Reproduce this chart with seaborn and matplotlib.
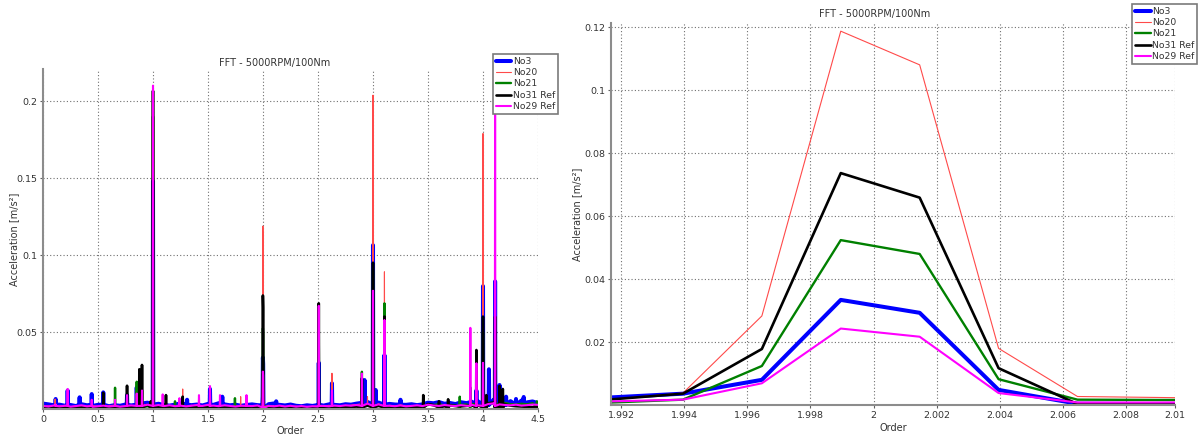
import numpy as np
import pandas as pd
import matplotlib
matplotlib.use("Agg")
import matplotlib.pyplot as plt
import seaborn as sns

# ---- data ----
series_names = ["No3", "No20", "No21", "No31 Ref", "No29 Ref"]
series_colors = ["#0000ff", "#ff4a4a", "#008000", "#000000", "#ff00ff"]
series_lw = [2.9, 0.8, 1.7, 1.9, 1.5]

# zoomed view around order 2 (FFT bins, 0.0025 order apart)
order_zoom = [1.99146, 1.99396, 1.99646, 1.99896, 2.00146, 2.00396, 2.00646, 2.00896, 2.01146]
zoom_no3 = [0.0023, 0.0036, 0.0080, 0.0334, 0.0293, 0.0048, 0.0004, 0.0003, 0.0003]
zoom_no20 = [0.0016, 0.0038, 0.0283, 0.1188, 0.1081, 0.0180, 0.0027, 0.0024, 0.0021]
zoom_no21 = [0.0007, 0.0017, 0.0124, 0.0524, 0.0480, 0.0082, 0.0017, 0.0016, 0.0016]
zoom_no31 = [0.0016, 0.0036, 0.0178, 0.0737, 0.0659, 0.0117, 0.0003, 0.0004, 0.0004]
zoom_no29 = [0.0011, 0.0017, 0.0069, 0.0243, 0.0217, 0.0038, 0.0008, 0.0008, 0.0009]

bin_width = 0.0025

# noise floor of the full spectrum, read every 0.05 order from 0 to 4.5
floor_order = np.round(np.arange(0, 4.501, 0.05), 2)
floor_no3 = [
    0.0035, 0.0030, 0.0024, 0.0028, 0.0021, 0.0026, 0.0019, 0.0031, 0.0024, 0.0020,
    0.0027, 0.0022, 0.0018, 0.0025, 0.0021, 0.0029, 0.0023, 0.0032, 0.0036, 0.0041,
    0.0030, 0.0034, 0.0026, 0.0022, 0.0028, 0.0037, 0.0031, 0.0025, 0.0029, 0.0023,
    0.0033, 0.0027, 0.0038, 0.0030, 0.0024, 0.0028, 0.0021, 0.0026, 0.0030, 0.0025,
    0.0034, 0.0031, 0.0036, 0.0027, 0.0023, 0.0029, 0.0021, 0.0018, 0.0024, 0.0020,
    0.0026, 0.0022, 0.0030, 0.0027, 0.0024, 0.0031, 0.0028, 0.0035, 0.0040, 0.0046,
    0.0050, 0.0042, 0.0038, 0.0033, 0.0029, 0.0036, 0.0027, 0.0031, 0.0025, 0.0030,
    0.0041, 0.0037, 0.0045, 0.0034, 0.0039, 0.0032, 0.0044, 0.0038, 0.0047, 0.0052,
    0.0046, 0.0058, 0.0062, 0.0070, 0.0066, 0.0051, 0.0047, 0.0055, 0.0043, 0.0049,
    0.0038]
floor_no20 = [
    0.0016, 0.0021, 0.0013, 0.0019, 0.0024, 0.0015, 0.0020, 0.0012, 0.0018, 0.0022,
    0.0017, 0.0014, 0.0021, 0.0025, 0.0016, 0.0019, 0.0023, 0.0018, 0.0026, 0.0030,
    0.0022, 0.0019, 0.0025, 0.0017, 0.0021, 0.0028, 0.0020, 0.0024, 0.0016, 0.0019,
    0.0026, 0.0021, 0.0018, 0.0023, 0.0015, 0.0020, 0.0024, 0.0017, 0.0022, 0.0019,
    0.0027, 0.0023, 0.0018, 0.0021, 0.0016, 0.0014, 0.0019, 0.0013, 0.0017, 0.0015,
    0.0020, 0.0016, 0.0024, 0.0019, 0.0022, 0.0017, 0.0025, 0.0029, 0.0034, 0.0041,
    0.0045, 0.0033, 0.0028, 0.0024, 0.0020, 0.0026, 0.0019, 0.0023, 0.0018, 0.0021,
    0.0027, 0.0024, 0.0030, 0.0022, 0.0026, 0.0021, 0.0028, 0.0024, 0.0031, 0.0027,
    0.0034, 0.0038, 0.0042, 0.0036, 0.0040, 0.0032, 0.0029, 0.0033, 0.0026, 0.0030,
    0.0024]
floor_no21 = [
    0.0009, 0.0013, 0.0008, 0.0011, 0.0015, 0.0010, 0.0012, 0.0009, 0.0014, 0.0011,
    0.0013, 0.0016, 0.0012, 0.0018, 0.0014, 0.0011, 0.0015, 0.0019, 0.0021, 0.0017,
    0.0013, 0.0010, 0.0014, 0.0012, 0.0017, 0.0013, 0.0010, 0.0015, 0.0012, 0.0009,
    0.0014, 0.0011, 0.0016, 0.0013, 0.0018, 0.0015, 0.0012, 0.0010, 0.0013, 0.0011,
    0.0016, 0.0014, 0.0012, 0.0010, 0.0013, 0.0009, 0.0011, 0.0008, 0.0010, 0.0009,
    0.0012, 0.0010, 0.0013, 0.0011, 0.0015, 0.0012, 0.0016, 0.0020, 0.0024, 0.0028,
    0.0031, 0.0024, 0.0019, 0.0016, 0.0013, 0.0017, 0.0012, 0.0016, 0.0014, 0.0019,
    0.0029, 0.0025, 0.0031, 0.0023, 0.0027, 0.0022, 0.0026, 0.0030, 0.0033, 0.0028,
    0.0035, 0.0040, 0.0037, 0.0043, 0.0039, 0.0031, 0.0028, 0.0034, 0.0030, 0.0038,
    0.0045]
floor_no31 = [
    0.0007, 0.0005, 0.0009, 0.0006, 0.0008, 0.0010, 0.0007, 0.0009, 0.0006, 0.0008,
    0.0011, 0.0009, 0.0007, 0.0010, 0.0012, 0.0009, 0.0014, 0.0017, 0.0021, 0.0026,
    0.0013, 0.0010, 0.0008, 0.0011, 0.0009, 0.0012, 0.0015, 0.0011, 0.0008, 0.0010,
    0.0009, 0.0012, 0.0010, 0.0008, 0.0011, 0.0009, 0.0007, 0.0010, 0.0008, 0.0009,
    0.0013, 0.0011, 0.0009, 0.0012, 0.0008, 0.0007, 0.0010, 0.0006, 0.0008, 0.0007,
    0.0009, 0.0007, 0.0010, 0.0008, 0.0011, 0.0009, 0.0013, 0.0016, 0.0019, 0.0022,
    0.0026, 0.0020, 0.0016, 0.0013, 0.0011, 0.0014, 0.0010, 0.0012, 0.0009, 0.0015,
    0.0032, 0.0025, 0.0021, 0.0018, 0.0024, 0.0019, 0.0017, 0.0020, 0.0023, 0.0026,
    0.0030, 0.0037, 0.0042, 0.0035, 0.0029, 0.0022, 0.0018, 0.0016, 0.0014, 0.0012,
    0.0011]
floor_no29 = [
    0.0020, 0.0016, 0.0023, 0.0017, 0.0021, 0.0015, 0.0019, 0.0024, 0.0017, 0.0014,
    0.0018, 0.0022, 0.0016, 0.0020, 0.0015, 0.0019, 0.0023, 0.0018, 0.0025, 0.0028,
    0.0021, 0.0026, 0.0019, 0.0024, 0.0018, 0.0022, 0.0017, 0.0021, 0.0026, 0.0020,
    0.0027, 0.0022, 0.0018, 0.0024, 0.0020, 0.0016, 0.0021, 0.0025, 0.0019, 0.0023,
    0.0026, 0.0020, 0.0017, 0.0022, 0.0016, 0.0021, 0.0015, 0.0019, 0.0014, 0.0018,
    0.0016, 0.0020, 0.0017, 0.0022, 0.0019, 0.0024, 0.0021, 0.0026, 0.0031, 0.0035,
    0.0038, 0.0030, 0.0025, 0.0021, 0.0018, 0.0023, 0.0017, 0.0020, 0.0024, 0.0019,
    0.0028, 0.0023, 0.0020, 0.0026, 0.0022, 0.0019, 0.0025, 0.0021, 0.0027, 0.0024,
    0.0029, 0.0033, 0.0037, 0.0030, 0.0026, 0.0024, 0.0028, 0.0022, 0.0025, 0.0029,
    0.0027]

# peaks: order -> amplitude
peaks_no3 = {0.115: 0.0065, 0.224: 0.012, 0.333: 0.0076, 0.443: 0.0097, 0.548: 0.0108,
             0.764: 0.009, 0.852: 0.014, 1.0: 0.148, 1.31: 0.006, 1.518: 0.013, 1.63: 0.008,
             2.12: 0.005, 2.507: 0.03, 2.627: 0.0167, 2.923: 0.0188, 3.0: 0.1064, 3.025: 0.0123,
             3.104: 0.035, 3.25: 0.006, 3.94: 0.012, 4.0: 0.0798, 4.054: 0.0258, 4.11: 0.0829,
             4.15: 0.0156, 4.21: 0.008, 4.3: 0.0065, 4.37: 0.0078}
peaks_no20 = {0.11: 0.0065, 0.224: 0.012, 1.0: 0.205, 1.27: 0.013, 1.418: 0.008, 1.52: 0.012,
              1.797: 0.008, 2.507: 0.06, 2.627: 0.0232, 2.95: 0.008, 3.0: 0.2038, 3.104: 0.0891,
              3.94: 0.02, 4.0: 0.1789, 4.11: 0.05, 4.17: 0.01}
peaks_no21 = {0.655: 0.0138, 0.852: 0.0177, 0.9: 0.012, 1.0: 0.19, 1.2: 0.005, 1.745: 0.007,
              2.507: 0.05, 2.899: 0.0242, 3.0: 0.09, 3.104: 0.0686, 3.457: 0.006, 3.789: 0.008,
              3.885: 0.014, 4.0: 0.05, 4.11: 0.04, 4.18: 0.012, 4.49: 0.005}
peaks_no31 = {0.548: 0.0105, 0.764: 0.0151, 0.876: 0.0258, 0.9: 0.0286, 0.98: 0.005, 1.0: 0.2066,
              1.118: 0.009, 1.27: 0.008, 2.507: 0.0686, 2.899: 0.02, 3.0: 0.095, 3.104: 0.06,
              3.457: 0.009, 3.6: 0.005, 3.683: 0.0063, 3.94: 0.0383, 4.0: 0.06, 4.03: 0.009,
              4.11: 0.06, 4.15: 0.015, 4.18: 0.013}
peaks_no29 = {0.115: 0.003, 0.224: 0.013, 0.443: 0.006, 0.655: 0.006, 0.764: 0.009, 0.852: 0.01,
              0.9: 0.012, 1.0: 0.21, 1.088: 0.0095, 1.24: 0.007, 1.418: 0.009, 1.518: 0.0149,
              1.609: 0.009, 1.85: 0.009, 2.507: 0.067, 2.627: 0.012, 2.899: 0.023, 3.0: 0.0768,
              3.104: 0.0578, 3.885: 0.0527, 3.94: 0.0297, 4.0: 0.03, 4.11: 0.2}
peak_foot = [0.0028, 0.0019, 0.0013, 0.001, 0.002]

floors = [floor_no3, floor_no20, floor_no21, floor_no31, floor_no29]
peaks = [peaks_no3, peaks_no20, peaks_no21, peaks_no31, peaks_no29]
zooms = [zoom_no3, zoom_no20, zoom_no21, zoom_no31, zoom_no29]


def full_spectrum(floor_vals, peak_map, foot, zoom_vals):
    pk = np.array(list(peak_map.keys()))
    keep = np.array([(abs(pk - o).min() > 0.006) and not (1.985 < o < 2.015)
                     for o in floor_order])
    xs = list(floor_order[keep])
    ys = list(np.array(floor_vals)[keep])
    for o, h in peak_map.items():
        xs += [o - bin_width, o, o + bin_width]
        ys += [foot, h, foot]
    xs += order_zoom
    ys += zoom_vals
    return pd.DataFrame({"order": xs, "acc": ys}).sort_values("order")


sns.set_style("white")
plt.rcParams["font.family"] = ["DejaVu Sans"]

fig = plt.figure(figsize=(11.98, 4.37), dpi=100)
ax1 = fig.add_axes([43 / 1198, 1 - 409 / 437, 495 / 1198, 340 / 437])
ax2 = fig.add_axes([611 / 1198, 1 - 405 / 437, 564 / 1198, 382 / 437])

for i, name in enumerate(series_names):
    df = full_spectrum(floors[i], peaks[i], peak_foot[i], zooms[i])
    sns.lineplot(data=df, x="order", y="acc", ax=ax1, color=series_colors[i],
                 linewidth=series_lw[i], label=name, estimator=None)
    dz = pd.DataFrame({"order": order_zoom, "acc": zooms[i]})
    sns.lineplot(data=dz, x="order", y="acc", ax=ax2, color=series_colors[i],
                 linewidth=series_lw[i], label=name, estimator=None)


def style_axes(ax, xticks, xlabels, yticks, ylabels, xlim, ylim, title_pad):
    ax.set_xlim(*xlim)
    ax.set_ylim(*ylim)
    ax.set_xticks(xticks)
    ax.set_xticklabels(xlabels)
    ax.set_yticks(yticks)
    ax.set_yticklabels(ylabels)
    ax.grid(True, color="#707070", linestyle=(0, (1, 2)), linewidth=0.8)
    for s in ["top", "right"]:
        ax.spines[s].set_visible(False)
    for s in ["left", "bottom"]:
        ax.spines[s].set_color("#8c8c8c")
        ax.spines[s].set_linewidth(1.5)
    ax.tick_params(direction="out", length=2.5, width=0.8, color="#606060",
                   labelsize=6.8, labelcolor="#333333", pad=1.5, bottom=True, left=True)
    ax.set_title("FFT - 5000RPM/100Nm", fontsize=7, color="#333333", x=0.467, pad=title_pad)
    ax.set_xlabel("Order", fontsize=7, color="#333333")
    ax.set_ylabel("Acceleration [m/s²]", fontsize=7, color="#333333")


style_axes(ax1, [0, 0.5, 1, 1.5, 2, 2.5, 3, 3.5, 4, 4.5],
           ["0", "0.5", "1", "1.5", "2", "2.5", "3", "3.5", "4", "4.5"],
           [0.05, 0.1, 0.15, 0.2], ["0.05", "0.1", "0.15", "0.2"],
           (0, 4.5), (0, 0.2208), 2.5)
ax1.xaxis.set_label_coords(0.5, -0.05)
ax1.yaxis.set_label_coords(-0.0485, 0.5)

x2_min, x2_max = 1.99168, 2.00955
x2_ticks = [1.992, 1.994, 1.996, 1.998, 2.0, 2.002, 2.004, 2.006, 2.008, x2_max]
style_axes(ax2, x2_ticks, ["%g" % round(v, 3) for v in x2_ticks],
           [0.02, 0.04, 0.06, 0.08, 0.1, 0.12],
           ["0.02", "0.04", "0.06", "0.08", "0.1", "0.12"],
           (x2_min, x2_max), (0, 0.1214), 4.5)
ax2.xaxis.set_label_coords(0.5, -0.047)
ax2.yaxis.set_label_coords(-0.0505, 0.5)

for ax, anchor in [(ax1, (1.04, 1.044)), (ax2, (1.039, 1.0497))]:
    leg = ax.legend(loc="upper right", bbox_to_anchor=anchor, borderaxespad=0,
                    fontsize=6.7, frameon=True, fancybox=False, framealpha=1,
                    edgecolor="#7a7a7a", handlelength=1.7, handletextpad=0.15,
                    labelspacing=0.25, borderpad=0.3)
    leg.get_frame().set_linewidth(1.2)
    for t in leg.get_texts():
        t.set_color("#333333")

fig.savefig("out.png", dpi=100)
